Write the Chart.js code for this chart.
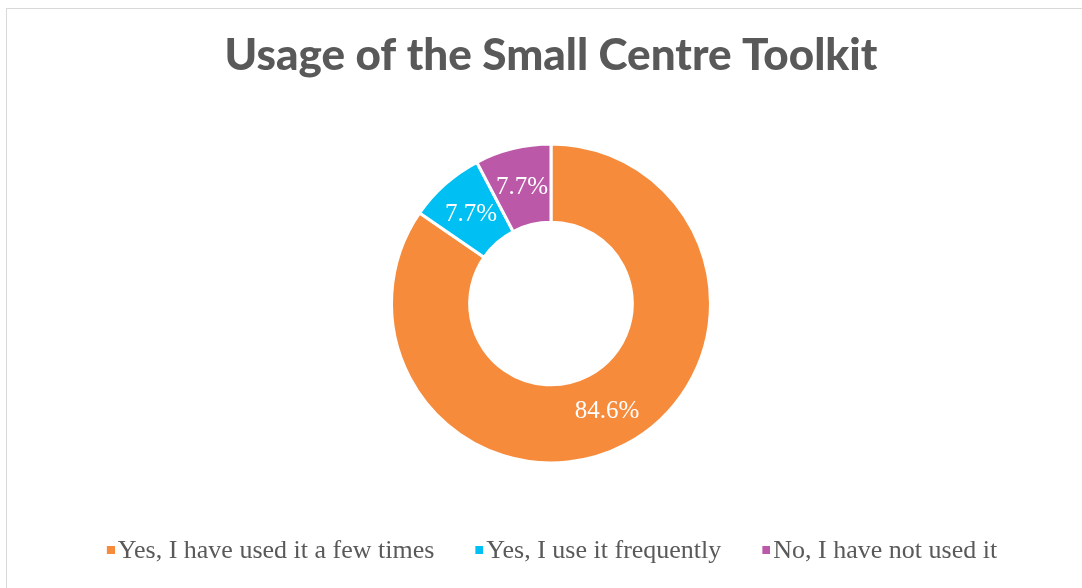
<!DOCTYPE html>
<html>
<head>
<meta charset="utf-8">
<script src="https://cdn.jsdelivr.net/npm/chart.js@4"></script>
<style>
  html, body { margin: 0; padding: 0; background: #fff; overflow: hidden; }
  #box {
    position: absolute; left: 6px; top: 8px;
    width: 1088px; height: 580px;
    border-top: 1px solid #d9d9d9; border-left: 1px solid #d9d9d9;
  }
</style>
</head>
<body>
<div id="box"><canvas id="myChart" width="1088" height="580"></canvas></div>
<script>
// chart data
let labels = ['Yes, I have used it a few times', 'Yes, I use it frequently', 'No, I have not used it'];
let values = [84.6, 7.7, 7.7];
let colorHex = ['#F68B3C', '#00BFF3', '#BC58A8'];

// small square for the legend, pushed to the right so it sits close to the text
function legendMark(color) {
  var c = document.createElement('canvas');
  c.width = 20;
  c.height = 10;
  var g = c.getContext('2d');
  g.fillStyle = color;
  g.fillRect(12, 0, 8, 8);
  return c;
}

// draws the percent text in the middle of each slice
const sliceLabels = {
  id: 'sliceLabels',
  afterDatasetsDraw(chart) {
    const ctx = chart.ctx;
    const meta = chart.getDatasetMeta(0);
    ctx.save();
    ctx.font = '25px "Liberation Serif"';
    ctx.fillStyle = '#fff';
    ctx.textAlign = 'center';
    ctx.textBaseline = 'middle';
    meta.data.forEach((arc, i) => {
      const pos = arc.tooltipPosition();
      ctx.fillText(chart.data.datasets[0].data[i].toFixed(1) + '%', pos.x, pos.y + 1);
    });
    ctx.restore();
  }
};

let ctx = document.getElementById('myChart').getContext('2d');
let myChart = new Chart(ctx, {
  type: 'doughnut',
  data: {
    labels: labels,
    datasets: [{
      data: values,
      backgroundColor: colorHex,
      borderColor: '#fff',
      borderWidth: 3,
      radius: 159.5,
      cutout: '51%'
    }]
  },
  options: {
    responsive: false,
    animation: false,
    layout: { padding: { top: 0, bottom: 15, left: 0, right: 0 } },
    plugins: {
      tooltip: { enabled: false },
      title: {
        display: true,
        text: 'Usage of the Small Centre Toolkit',
        color: '#595959',
        font: { family: 'Lato', size: 44, weight: 900, lineHeight: 1.2 },
        padding: { top: 20.6, bottom: 25.6 }
      },
      legend: {
        position: 'bottom',
        labels: {
          color: '#595959',
          usePointStyle: true,
          pointStyleWidth: 0.01,
          boxHeight: 8,
          padding: 39,
          font: { family: 'Liberation Serif', size: 26 },
          generateLabels: function(chart) {
            var items = Chart.overrides.doughnut.plugins.legend.labels.generateLabels(chart);
            items.forEach(function(item, i) {
              item.pointStyle = legendMark(colorHex[i]);
            });
            return items;
          }
        }
      }
    }
  },
  plugins: [sliceLabels]
});
</script>
</body>
</html>
